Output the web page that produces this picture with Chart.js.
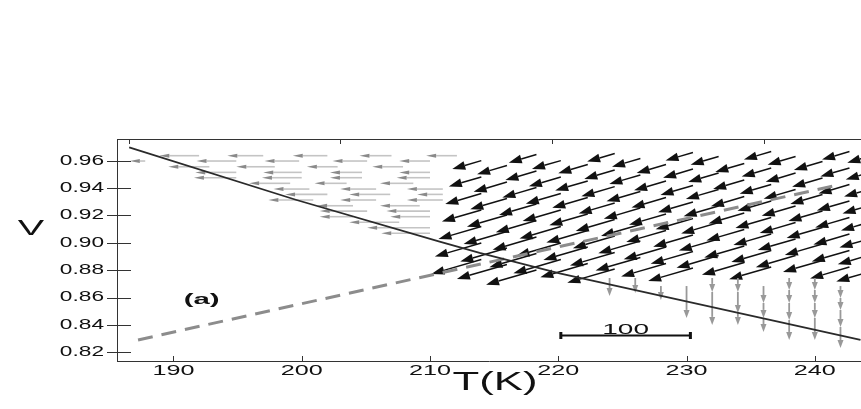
<!DOCTYPE html>
<html lang="en">
<head>
<meta charset="UTF-8">
<title>V vs T(K) flow field</title>
<script src="https://cdn.jsdelivr.net/npm/chart.js@4"></script>
<style>
  html, body { margin: 0; padding: 0; background: #fff; }
  #wrap { width: 861px; height: 409px; position: relative; }
</style>
</head>
<body>
<div id="wrap"><canvas id="chart"></canvas></div>
<script>
// axis ticks
const xTicks = [190, 200, 210, 220, 230, 240];
const yTicks = [0.82, 0.84, 0.86, 0.88, 0.90, 0.92, 0.94, 0.96];
const topTicks = [186.5, 203.0, 219.5, 236.0];

// solid curve
const curveT = [186.55, 199.6, 210.75, 213.87, 220.1, 243.56];
const curveV = [0.9698, 0.9313, 0.9008, 0.8926, 0.8777, 0.8290];

// dashed gray line
const dashT = [187.24, 241.77];
const dashV = [0.8290, 0.9422];

// light gray horizontal arrows: one V per row, tip / tail T per arrow
const grayRowV = [0.9637, 0.9598, 0.9556, 0.9515, 0.9476, 0.9435, 0.9393, 0.9354, 0.9313, 0.9271, 0.9232, 0.9191, 0.9150, 0.9110, 0.9070];
const grayTipT = [
  [188.9, 194.2, 199.3, 204.5, 209.7],
  [186.6, 191.8, 197.1, 202.4, 207.6],
  [189.6, 194.9, 200.4, 205.5],
  [191.7, 197.0, 202.2, 207.6],
  [191.6, 196.9, 202.2, 207.4],
  [195.9, 201.0, 206.1],
  [197.8, 203.0, 208.2],
  [198.7, 203.7, 209.0],
  [197.4, 203.0, 208.2],
  [201.2, 206.1],
  [201.4, 206.6],
  [201.4, 206.9],
  [203.7],
  [205.1],
  [206.2]
];
const grayTailT = [
  [192.0, 197.0, 202.0, 207.0, 212.1],
  [187.8, 194.9, 199.8, 205.1, 210.0],
  [192.8, 197.9, 202.8, 207.9],
  [194.9, 200.0, 204.7, 210.0],
  [194.9, 200.0, 204.7, 210.0],
  [199.1, 203.5, 208.7],
  [200.6, 205.8, 211.0],
  [202.0, 206.9, 211.0],
  [200.9, 205.8, 211.0],
  [204.0, 209.2],
  [205.1, 210.0],
  [204.0, 210.0],
  [207.6],
  [210.0],
  [210.0]
];

// black arrows: tail T per column, tail V per arrow, components (dT, dV)
const blackT = [214.0, 216.0, 218.3, 220.2, 222.3, 224.4, 226.4, 228.4, 230.5, 232.5, 234.5, 236.6, 238.5, 240.6, 242.7, 244.7];
const blackV = [
  [0.9601, 0.9481, 0.9360, 0.9240, 0.9119, 0.8999, 0.8878],
  [0.9565, 0.9444, 0.9324, 0.9203, 0.9083, 0.8962, 0.8842],
  [0.9645, 0.9525, 0.9404, 0.9284, 0.9163, 0.9042, 0.8922, 0.8801],
  [0.9601, 0.9481, 0.9360, 0.9240, 0.9119, 0.8999, 0.8878],
  [0.9572, 0.9452, 0.9331, 0.9211, 0.9090, 0.8969, 0.8849],
  [0.9653, 0.9532, 0.9411, 0.9291, 0.9170, 0.9050, 0.8929, 0.8809],
  [0.9616, 0.9496, 0.9375, 0.9254, 0.9134, 0.9013, 0.8893],
  [0.9572, 0.9452, 0.9331, 0.9211, 0.9090, 0.8969, 0.8849],
  [0.9660, 0.9539, 0.9419, 0.9298, 0.9178, 0.9057, 0.8937, 0.8816],
  [0.9631, 0.9510, 0.9390, 0.9269, 0.9148, 0.9028, 0.8907],
  [0.9580, 0.9459, 0.9338, 0.9218, 0.9097, 0.8977, 0.8856],
  [0.9667, 0.9547, 0.9426, 0.9306, 0.9185, 0.9064, 0.8944, 0.8823],
  [0.9631, 0.9510, 0.9390, 0.9269, 0.9148, 0.9028, 0.8907],
  [0.9594, 0.9474, 0.9353, 0.9232, 0.9112, 0.8991, 0.8871],
  [0.9667, 0.9547, 0.9426, 0.9306, 0.9185, 0.9064, 0.8944, 0.8823],
  [0.9645, 0.9525, 0.9404, 0.9284, 0.9163, 0.9042, 0.8922, 0.8801]
];
const blackU = [
  [-2.26, -2.53, -2.81, -3.07, -3.34, -3.62, -3.89],
  [-2.33, -2.60, -2.86, -3.12, -3.38, -3.64, -3.90],
  [-2.16, -2.42, -2.66, -2.92, -3.17, -3.42, -3.67, -3.93],
  [-2.25, -2.49, -2.73, -2.98, -3.22, -3.46, -3.70],
  [-2.30, -2.54, -2.77, -3.00, -3.23, -3.46, -3.70],
  [-2.15, -2.37, -2.60, -2.81, -3.04, -3.26, -3.49, -3.70],
  [-2.21, -2.42, -2.64, -2.85, -3.07, -3.28, -3.49],
  [-2.29, -2.49, -2.69, -2.89, -3.10, -3.30, -3.50],
  [-2.14, -2.33, -2.53, -2.72, -2.91, -3.10, -3.30, -3.49],
  [-2.18, -2.37, -2.55, -2.73, -2.92, -3.10, -3.28],
  [-2.26, -2.43, -2.60, -2.78, -2.95, -3.12, -3.30],
  [-2.13, -2.30, -2.46, -2.63, -2.79, -2.95, -3.11, -3.28],
  [-2.18, -2.33, -2.49, -2.64, -2.80, -2.95, -3.10],
  [-2.23, -2.37, -2.51, -2.66, -2.80, -2.94, -3.08],
  [-2.14, -2.27, -2.41, -2.54, -2.67, -2.81, -2.94, -3.07],
  [-2.17, -2.29, -2.42, -2.54, -2.66, -2.78, -2.91, -3.03]
];
const blackW = [
  [-0.0062, -0.0069, -0.0077, -0.0084, -0.0091, -0.0099, -0.0106],
  [-0.0064, -0.0071, -0.0078, -0.0085, -0.0092, -0.0099, -0.0106],
  [-0.0059, -0.0066, -0.0073, -0.0080, -0.0086, -0.0093, -0.0100, -0.0107],
  [-0.0061, -0.0068, -0.0074, -0.0081, -0.0088, -0.0094, -0.0101],
  [-0.0063, -0.0069, -0.0075, -0.0082, -0.0088, -0.0094, -0.0101],
  [-0.0059, -0.0065, -0.0071, -0.0077, -0.0083, -0.0089, -0.0095, -0.0101],
  [-0.0060, -0.0066, -0.0072, -0.0078, -0.0084, -0.0089, -0.0095],
  [-0.0062, -0.0068, -0.0073, -0.0079, -0.0084, -0.0090, -0.0095],
  [-0.0058, -0.0064, -0.0069, -0.0074, -0.0079, -0.0085, -0.0090, -0.0095],
  [-0.0060, -0.0065, -0.0070, -0.0074, -0.0080, -0.0084, -0.0090],
  [-0.0062, -0.0066, -0.0071, -0.0076, -0.0080, -0.0085, -0.0090],
  [-0.0058, -0.0063, -0.0067, -0.0072, -0.0076, -0.0080, -0.0085, -0.0089],
  [-0.0060, -0.0064, -0.0068, -0.0072, -0.0076, -0.0080, -0.0085],
  [-0.0061, -0.0065, -0.0069, -0.0072, -0.0076, -0.0080, -0.0084],
  [-0.0058, -0.0062, -0.0066, -0.0069, -0.0073, -0.0077, -0.0080, -0.0084],
  [-0.0059, -0.0062, -0.0066, -0.0069, -0.0073, -0.0076, -0.0079, -0.0083]
];

// gray vertical arrows: column T, tail / tip V per arrow
const grayVT = [224, 226, 228, 230, 232, 234, 236, 238, 240, 242];
const grayVTail = [
  [0.8743], [0.8743], [0.8684], [0.8684],
  [0.8743, 0.8641],
  [0.8743, 0.8641, 0.8487],
  [0.8684, 0.8560, 0.8451],
  [0.8743, 0.8655, 0.8560, 0.8436],
  [0.8743, 0.8655, 0.8560, 0.8451],
  [0.8684, 0.8597, 0.8509, 0.8385]
];
const grayVTip = [
  [0.8611], [0.8633], [0.8582], [0.8451],
  [0.8641, 0.8400],
  [0.8641, 0.8487, 0.8400],
  [0.8560, 0.8451, 0.8348],
  [0.8655, 0.8560, 0.8436, 0.8290],
  [0.8655, 0.8560, 0.8451, 0.8290],
  [0.8597, 0.8509, 0.8385, 0.8231]
];

// reference bar (length 100)
const scaleBarT = [220.2, 230.3];
const scaleBarV = 0.8326;

const FONT = '"Liberation Sans", Arial, sans-serif';

function arrow(ctx, x0, y0, x1, y1, s) {
  const ang = Math.atan2(y1 - y0, x1 - x0);
  const len = Math.hypot(x1 - x0, y1 - y0);
  const hl = Math.min(s.head, len * 0.9);
  const bx = x1 - Math.cos(ang) * hl, by = y1 - Math.sin(ang) * hl;
  ctx.strokeStyle = s.line;
  ctx.lineWidth = s.width;
  ctx.beginPath();
  ctx.moveTo(x0, y0);
  ctx.lineTo(bx, by);
  ctx.stroke();
  ctx.fillStyle = s.fill;
  ctx.beginPath();
  ctx.moveTo(x1, y1);
  ctx.lineTo(bx + Math.sin(ang) * s.half, by - Math.cos(ang) * s.half);
  ctx.lineTo(bx - Math.sin(ang) * s.half, by + Math.cos(ang) * s.half);
  ctx.closePath();
  ctx.fill();
}

// canvas text stretched sideways like the original figure
function stretchText(ctx, txt, px, py, font, sx, align, base) {
  ctx.save();
  ctx.font = font;
  ctx.textAlign = align;
  ctx.textBaseline = base;
  ctx.fillStyle = '#111';
  ctx.translate(px, py);
  ctx.scale(sx, 1);
  ctx.fillText(txt, 0, 0);
  ctx.restore();
}

const quiverPlugin = {
  id: 'quiver',
  beforeDatasetsDraw(chart) {
    const { ctx, chartArea: a, scales: { x, y } } = chart;
    ctx.save();
    ctx.beginPath();
    ctx.rect(a.left, a.top, a.right - a.left, a.bottom - a.top);
    ctx.clip();

    const grayH = { line: '#c4c4c4', fill: '#8a8a8a', width: 1.6, head: 10, half: 2 };
    grayRowV.forEach((v, r) => {
      grayTipT[r].forEach((t, i) => {
        arrow(ctx, x.getPixelForValue(grayTailT[r][i]), y.getPixelForValue(v),
              x.getPixelForValue(t), y.getPixelForValue(v), grayH);
      });
    });

    const black = { line: '#111', fill: '#111', width: 1.5, head: 13, half: 4.4 };
    blackT.forEach((t, c) => {
      blackV[c].forEach((v, r) => {
        arrow(ctx, x.getPixelForValue(t), y.getPixelForValue(v),
              x.getPixelForValue(t + blackU[c][r]), y.getPixelForValue(v + blackW[c][r]), black);
      });
    });

    const grayV = { line: '#999', fill: '#999', width: 1.8, head: 8, half: 3 };
    grayVT.forEach((t, c) => {
      grayVTail[c].forEach((v, i) => {
        const px = x.getPixelForValue(t);
        arrow(ctx, px, y.getPixelForValue(v), px, y.getPixelForValue(grayVTip[c][i]), grayV);
      });
    });
    ctx.restore();
  },
  afterDraw(chart) {
    const { ctx, chartArea: a, scales: { x, y } } = chart;
    ctx.save();
    ctx.strokeStyle = '#333';
    ctx.lineWidth = 1;
    // top frame line and its ticks
    ctx.beginPath();
    ctx.moveTo(a.left, a.top + 0.5);
    ctx.lineTo(a.right, a.top + 0.5);
    topTicks.forEach(t => {
      const px = Math.round(x.getPixelForValue(t)) + 0.5;
      ctx.moveTo(px, a.top);
      ctx.lineTo(px, a.top + 5);
    });
    // bottom ticks
    x.ticks.forEach(tk => {
      const px = Math.round(x.getPixelForValue(tk.value)) + 0.5;
      ctx.moveTo(px, a.bottom);
      ctx.lineTo(px, a.bottom - 5);
    });
    // left ticks cross the axis
    y.ticks.forEach(tk => {
      const py = Math.round(y.getPixelForValue(tk.value)) + 0.5;
      ctx.moveTo(a.left - 10, py);
      ctx.lineTo(a.left + 14, py);
    });
    ctx.stroke();

    const f14 = '14px ' + FONT;
    x.ticks.forEach(tk => {
      stretchText(ctx, String(tk.value), x.getPixelForValue(tk.value), a.bottom + 3, f14, 1.8, 'center', 'top');
    });
    y.ticks.forEach(tk => {
      stretchText(ctx, tk.value.toFixed(2), a.left - 13, y.getPixelForValue(tk.value), f14, 1.62, 'right', 'middle');
    });
    stretchText(ctx, 'T(K)', 495, 390, '25px ' + FONT, 1.75, 'center', 'alphabetic');
    stretchText(ctx, 'V', 31, 235, '22px ' + FONT, 1.8, 'center', 'alphabetic');
    stretchText(ctx, '(a)', x.getPixelForValue(192.2), 304, 'bold 14px ' + FONT, 2.1, 'center', 'alphabetic');

    // reference bar
    const bx0 = x.getPixelForValue(scaleBarT[0]);
    const bx1 = x.getPixelForValue(scaleBarT[1]);
    const by = Math.round(y.getPixelForValue(scaleBarV)) + 0.5;
    ctx.strokeStyle = '#111';
    ctx.lineWidth = 2;
    ctx.beginPath();
    ctx.moveTo(bx0, by);
    ctx.lineTo(bx1, by);
    ctx.stroke();
    ctx.fillStyle = '#111';
    ctx.fillRect(bx0 - 1.5, by - 3.5, 3, 7);
    ctx.fillRect(bx1 - 1.5, by - 3.5, 3, 7);
    stretchText(ctx, '100', (bx0 + bx1) / 2, by - 2, f14, 2.0, 'center', 'alphabetic');
    ctx.restore();
  }
};

new Chart(document.getElementById('chart').getContext('2d'), {
  type: 'scatter',
  data: {
    datasets: [
      {
        data: curveT.map((t, i) => ({ x: t, y: curveV[i] })),
        showLine: true,
        pointRadius: 0,
        borderColor: '#2a2a2a',
        borderWidth: 1.8
      },
      {
        data: dashT.map((t, i) => ({ x: t, y: dashV[i] })),
        showLine: true,
        pointRadius: 0,
        borderColor: '#8c8c8c',
        borderWidth: 3,
        borderDash: [15, 9]
      }
    ]
  },
  options: {
    responsive: true,
    maintainAspectRatio: false,
    animation: false,
    events: [],
    layout: { padding: { top: 139, left: 0, right: 0, bottom: 0 } },
    plugins: { legend: { display: false }, tooltip: { enabled: false } },
    scales: {
      x: {
        type: 'linear',
        min: 185.6,
        max: 243.6,
        afterBuildTicks: s => { s.ticks = xTicks.map(v => ({ value: v })); },
        afterFit: s => { s.height = 48; },
        ticks: { display: false },
        grid: { drawOnChartArea: false, drawTicks: false },
        border: { display: true, color: '#333', width: 1 }
      },
      y: {
        type: 'linear',
        min: 0.8136,
        max: 0.9759,
        afterBuildTicks: s => { s.ticks = yTicks.map(v => ({ value: v })); },
        afterFit: s => { s.width = 117; },
        ticks: { display: false },
        grid: { drawOnChartArea: false, drawTicks: false },
        border: { display: true, color: '#333', width: 1 }
      }
    }
  },
  plugins: [quiverPlugin]
});
</script>
</body>
</html>
